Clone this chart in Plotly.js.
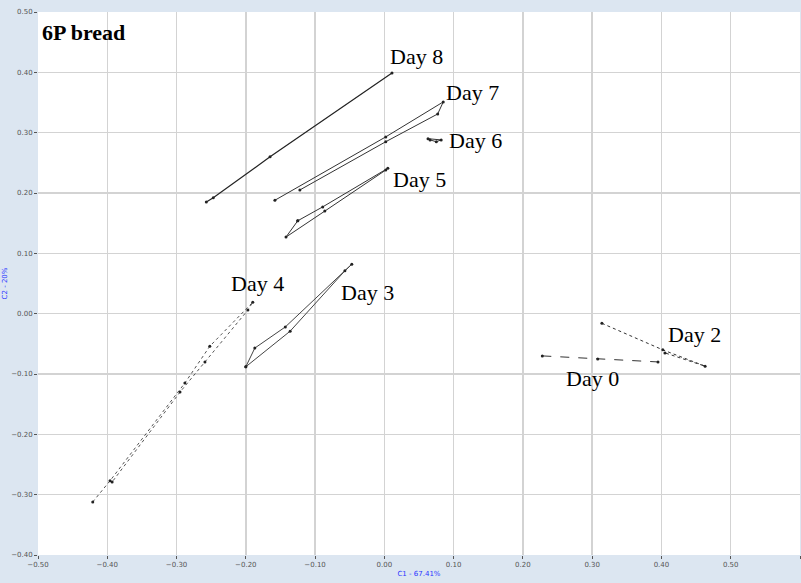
<!DOCTYPE html>
<html>
<head>
<meta charset="utf-8">
<script src="https://cdn.plot.ly/plotly-3.0.1.min.js"></script>
<style>
  html, body { margin: 0; padding: 0; background: #dce6f1; }
  #chart { width: 801px; height: 583px; }
</style>
</head>
<body>
<div id="chart"></div>
<script>
// Score trajectories (PC1, PC2) for the 6P bread samples, one path per storage day.
const day8X = [-0.257, -0.247, -0.165, 0.011];
const day8Y = [0.185, 0.192, 0.260, 0.399];

const day7X = [-0.158, 0.002, 0.085, 0.077, 0.002, -0.122];
const day7Y = [0.188, 0.293, 0.351, 0.331, 0.285, 0.205];

const day6X = [0.063, 0.082, 0.075, 0.066];
const day6Y = [0.290, 0.288, 0.285, 0.288];

const day5X = [-0.125, -0.089, 0.005, 0.002, -0.086, -0.142, -0.125];
const day5Y = [0.154, 0.177, 0.241, 0.238, 0.170, 0.127, 0.154];

const day4X = [-0.421, -0.396, -0.288, -0.252, -0.190, -0.197, -0.259, -0.295, -0.393];
const day4Y = [-0.312, -0.277, -0.115, -0.054, 0.019, 0.006, -0.080, -0.130, -0.279];

const day3X = [-0.200, -0.187, -0.143, -0.047, -0.057, -0.136, -0.200];
const day3Y = [-0.088, -0.057, -0.022, 0.082, 0.071, -0.029, -0.088];

const day2X = [0.314, 0.402, 0.463, 0.405];
const day2Y = [-0.016, -0.060, -0.087, -0.065];

const day0X = [0.228, 0.308, 0.395];
const day0Y = [-0.070, -0.075, -0.080];

const dayNames = ['Day 8', 'Day 7', 'Day 6', 'Day 5', 'Day 4', 'Day 3', 'Day 2', 'Day 0'];
const dayX = [day8X, day7X, day6X, day5X, day4X, day3X, day2X, day0X];
const dayY = [day8Y, day7Y, day6Y, day5Y, day4Y, day3Y, day2Y, day0Y];

const xTicks = [-0.50, -0.40, -0.30, -0.20, -0.10, 0.00, 0.10, 0.20, 0.30, 0.40, 0.50, 0.60];
const yTicks = [-0.40, -0.30, -0.20, -0.10, 0.00, 0.10, 0.20, 0.30, 0.40, 0.50];

const chartTitle = '6P bread';
const xTitle = 'C1 - 67.41%';
const yTitle = 'C2 - 20%';

// Per-path line look and where its label sits relative to one of its points.
const pathStyle = [
  { color: '#222', width: 1.2, dash: 'solid', labelAt: 3, dx: -4, dy: 16 },
  { color: '#333', width: 1, dash: 'solid', labelAt: 2, dx: 1, dy: 9 },
  { color: '#333', width: 1, dash: 'solid', labelAt: 1, dx: 6, dy: -1 },
  { color: '#333', width: 1, dash: 'solid', labelAt: 2, dx: 3, dy: -11 },
  { color: '#555', width: 1, dash: 'dot', labelAt: 4, dx: -24, dy: 19 },
  { color: '#444', width: 1, dash: 'solid', labelAt: 3, dx: -13, dy: -28 },
  { color: '#333', width: 1, dash: 'dot', labelAt: 1, dx: 3, dy: 15 },
  { color: '#333', width: 1, dash: 'dash', labelAt: 1, dx: -34, dy: -20 }
];

const traces = dayNames.map((name, i) => ({
  type: 'scatter',
  mode: 'lines+markers',
  name: name,
  x: dayX[i],
  y: dayY[i],
  line: { color: pathStyle[i].color, width: pathStyle[i].width, dash: pathStyle[i].dash },
  marker: { color: '#222', size: 3 },
  hoverinfo: 'name+x+y'
}));

const labelFont = { family: 'Liberation Serif, Times New Roman, serif', size: 22, color: '#000' };

const annotations = dayNames.map((name, i) => {
  const s = pathStyle[i];
  return {
    x: dayX[i][s.labelAt],
    y: dayY[i][s.labelAt],
    xref: 'x', yref: 'y',
    text: name,
    showarrow: false,
    xanchor: 'left', yanchor: 'middle',
    xshift: s.dx, yshift: s.dy,
    font: labelFont
  };
});

annotations.push({
  xref: 'paper', yref: 'paper',
  x: 0, y: 1,
  xanchor: 'left', yanchor: 'top',
  xshift: 2, yshift: -6,
  text: '<b>' + chartTitle + '</b>',
  showarrow: false,
  font: { family: 'Liberation Serif, Times New Roman, serif', size: 22, color: '#000' }
});

const tickFont = { family: 'DejaVu Sans, sans-serif', size: 7, color: '#555' };
const axisTitleFont = { family: 'DejaVu Sans, sans-serif', size: 7, color: '#2a35ff' };

const layout = {
  width: 801,
  height: 583,
  margin: { l: 38, r: 1, t: 12, b: 28 },
  paper_bgcolor: '#dce6f1',
  plot_bgcolor: '#ffffff',
  showlegend: false,
  xaxis: {
    range: [-0.5, 0.6],
    tickvals: xTicks,
    tickformat: '.2f',
    tickfont: tickFont,
    ticks: 'outside',
    ticklen: 3,
    tickcolor: '#555',
    showgrid: true,
    gridcolor: '#d3d3d3',
    gridwidth: 1.5,
    zeroline: false,
    showline: false,
    title: { text: xTitle, font: axisTitleFont, standoff: 2 }
  },
  yaxis: {
    range: [-0.4, 0.5],
    tickvals: yTicks,
    tickformat: '.2f',
    tickfont: tickFont,
    ticks: 'outside',
    ticklen: 3,
    tickcolor: '#555',
    showgrid: true,
    gridcolor: '#d3d3d3',
    gridwidth: 1.5,
    zeroline: false,
    showline: false,
    title: { text: yTitle, font: axisTitleFont, standoff: 2 }
  },
  annotations: annotations
};

Plotly.newPlot('chart', traces, layout, { displayModeBar: false, staticPlot: true });
</script>
</body>
</html>
